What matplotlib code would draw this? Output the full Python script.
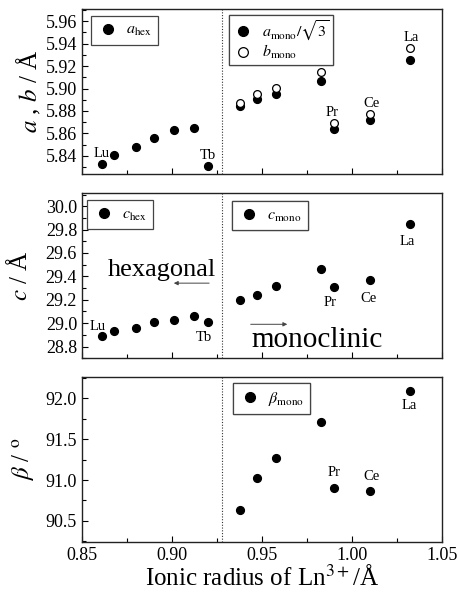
import matplotlib
matplotlib.use("Agg")
import matplotlib.pyplot as plt
from matplotlib.ticker import MultipleLocator

plt.rcParams['font.family'] = ['Liberation Serif', 'DejaVu Serif']
plt.rcParams['mathtext.fontset'] = 'stix'

# ionic radii (Shannon, CN6)
r_hex = [0.861, 0.868, 0.880, 0.890, 0.901, 0.912, 0.920]     # Lu .. Tb
r_mono = [0.938, 0.947, 0.958, 0.983, 0.990, 1.010, 1.032]    # Gd .. La

a_hex = [5.8327, 5.8411, 5.8482, 5.8562, 5.8627, 5.8650, 5.8306]
a_mono = [5.8844, 5.8903, 5.8950, 5.9071, 5.8638, 5.8720, 5.9256]
b_mono = [5.8874, 5.8953, 5.9009, 5.9144, 5.8697, 5.8770, 5.9359]

c_hex = [28.886, 28.929, 28.957, 29.006, 29.023, 29.060, 29.006]
c_mono = [29.194, 29.243, 29.320, 29.460, 29.308, 29.371, 29.848]

beta_mono = [90.631, 91.020, 91.272, 91.710, 90.904, 90.868, 92.090]

x_boundary = 0.928

fig = plt.figure(figsize=(4.6, 5.95), dpi=100)
left, width, height = 0.178, 0.783, 0.277
ax1 = fig.add_axes([left, 0.708, width, height])
ax2 = fig.add_axes([left, 0.398, width, height])
ax3 = fig.add_axes([left, 0.089, width, height])

ms = 5.6


def style(ax, major, minor, fmt):
    ax.set_xlim(0.85, 1.05)
    ax.xaxis.set_major_locator(MultipleLocator(0.05))
    ax.xaxis.set_minor_locator(MultipleLocator(0.025))
    ax.yaxis.set_major_locator(MultipleLocator(major))
    ax.yaxis.set_minor_locator(MultipleLocator(minor))
    ax.yaxis.set_major_formatter(fmt)
    ax.tick_params(which='both', direction='in', top=False, right=False,
                   labelsize=13, width=0.8)
    ax.tick_params(which='major', length=4.5)
    ax.tick_params(which='minor', length=3)
    ax.axvline(x_boundary, color='#333333', lw=0.8, ls=(0, (1, 1.5)))
    for s in ax.spines.values():
        s.set_linewidth(1.0)
        s.set_color('#222222')


def legend(ax, handles, anchor, pad=0.4):
    lg = ax.legend(handles, [h.get_label() for h in handles], loc='upper left',
                   bbox_to_anchor=anchor, borderaxespad=0, fontsize=11.5,
                   fancybox=False, framealpha=1, edgecolor='#444444',
                   handletextpad=0.5, borderpad=pad, handlelength=1.3,
                   labelspacing=0.0, markerscale=1.25)
    lg.get_frame().set_linewidth(0.9)
    ax.add_artist(lg)
    return lg


lab = dict(ha='center', va='baseline', fontsize=10.5)

# top panel: a, b
style(ax1, 0.02, 0.01, '{x:.2f}')
ax1.set_ylim(5.824, 5.971)
h1, = ax1.plot(r_hex, a_hex, 'o', color='black', ms=ms, label=r'$a_{\rm hex}$')
h2, = ax1.plot(r_mono, a_mono, 'o', color='black', ms=ms,
               label=r'$a_{\rm mono}/\sqrt{3}$')
h3, = ax1.plot(r_mono, b_mono, 'o', mfc='white', mec='black', mew=0.9, ms=ms,
               label=r'$b_{\rm mono}$')
legend(ax1, [h1], (0.025, 0.958))
legend(ax1, [h2, h3], (0.408, 0.964), pad=0.25)
ax1.tick_params(labelbottom=False)
ax1.set_ylabel(r'$a$ , $b$ / Å', fontsize=18)
ax1.yaxis.set_label_coords(-0.108, 0.5)
ax1.text(0.861, 5.8388, 'Lu', **lab)
ax1.text(0.920, 5.8372, 'Tb', **lab)
ax1.text(0.989, 5.8757, 'Pr', **lab)
ax1.text(1.0106, 5.8832, 'Ce', **lab)
ax1.text(1.0330, 5.9425, 'La', **lab)

# middle panel: c
style(ax2, 0.2, 0.1, '{x:.1f}')
ax2.set_ylim(28.70, 30.11)
g1, = ax2.plot(r_hex, c_hex, 'o', color='black', ms=ms, label=r'$c_{\rm hex}$')
g2, = ax2.plot(r_mono, c_mono, 'o', color='black', ms=ms, label=r'$c_{\rm mono}$')
legend(ax2, [g1], (0.014, 0.958))
legend(ax2, [g2], (0.417, 0.952))
ax2.tick_params(labelbottom=False)
ax2.set_ylabel(r'$c$ / Å', fontsize=18)
ax2.yaxis.set_label_coords(-0.139, 0.5)
ax2.text(0.859, 28.945, 'Lu', **lab)
ax2.text(0.918, 28.85, 'Tb', **lab)
ax2.text(0.988, 29.15, 'Pr', **lab)
ax2.text(1.0094, 29.18, 'Ce', **lab)
ax2.text(1.0306, 29.665, 'La', **lab)
ax2.text(0.8942, 29.40, 'hexagonal', ha='center', va='baseline', fontsize=19)
ax2.annotate('', xy=(0.8995, 29.342), xytext=(0.9222, 29.342),
             arrowprops=dict(arrowstyle='-|>', color='#444444', lw=0.7,
                             mutation_scale=6))
ax2.text(0.9808, 28.80, 'monoclinic', ha='center', va='baseline', fontsize=21)
ax2.annotate('', xy=(0.9656, 28.99), xytext=(0.9422, 28.99),
             arrowprops=dict(arrowstyle='-|>', color='#444444', lw=0.7,
                             mutation_scale=6))

# bottom panel: beta
style(ax3, 0.5, 0.25, '{x:.1f}')
ax3.set_ylim(90.24, 92.26)
k1, = ax3.plot(r_mono, beta_mono, 'o', color='black', ms=ms,
               label=r'$\beta_{\rm mono}$')
legend(ax3, [k1], (0.419, 0.964))
ax3.xaxis.set_major_formatter('{x:.2f}')
ax3.set_ylabel(r'$\beta$ / $^{\rm o}$', fontsize=18)
ax3.yaxis.set_label_coords(-0.125, 0.5)
ax3.set_xlabel(r'Ionic radius of Ln$^{3+}$/Å', fontsize=18, labelpad=1)
ax3.text(1.032, 91.87, 'La', **lab)
ax3.text(0.990, 91.045, 'Pr', **lab)
ax3.text(1.011, 91.0, 'Ce', **lab)

fig.savefig('out.png', dpi=100)
